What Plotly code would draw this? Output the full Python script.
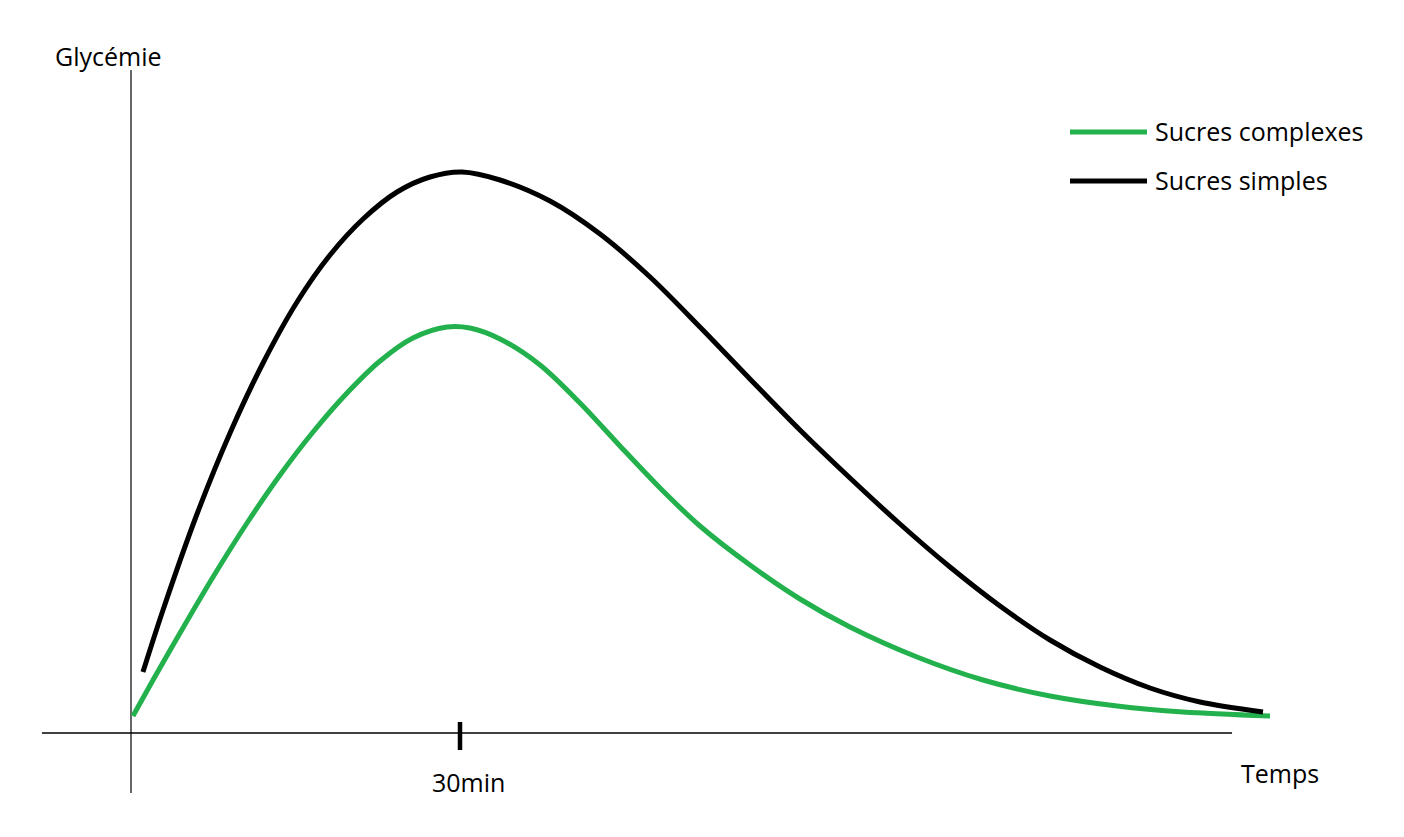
import plotly.graph_objects as go

# ---- data (time in minutes, glycaemia in arbitrary units) ----
t_simples = [1.09, 2.92, 6.02, 9.03, 12.04, 15.14, 18.15, 21.16, 24.26, 27.26, 30.18,
             33.65, 38.21, 42.77, 47.33, 51.88, 56.44, 61.00, 65.56, 70.12, 74.68,
             79.24, 83.80, 88.36, 92.92, 97.48, 103.22]
g_simples = [0.61, 1.23, 2.19, 3.00, 3.70, 4.31, 4.78, 5.14, 5.41, 5.56, 5.61,
             5.53, 5.32, 4.99, 4.56, 4.06, 3.54, 3.03, 2.55, 2.09, 1.66,
             1.27, 0.93, 0.66, 0.45, 0.31, 0.21]

t_complexes = [0.18, 2.01, 4.47, 7.48, 10.58, 13.59, 16.60, 19.70, 22.71, 25.71, 28.81,
               30.91, 33.65, 37.30, 40.94, 44.59, 48.24, 51.88, 56.44, 61.00, 65.56,
               71.67, 77.69, 83.80, 89.91, 95.93, 103.86]
g_complexes = [0.17, 0.53, 1.00, 1.56, 2.10, 2.58, 3.01, 3.40, 3.72, 3.95, 4.06,
               4.05, 3.94, 3.68, 3.30, 2.87, 2.45, 2.07, 1.68, 1.34, 1.06,
               0.76, 0.53, 0.37, 0.27, 0.21, 0.17]

series_names = ["Sucres complexes", "Sucres simples"]
series_colors = ["#22b14c", "#000000"]
tick_value = 30
tick_label = "30min"
x_title = "Temps"
y_title = "Glycémie"

W, H = 1404, 837
FONT = "Open Sans"
FS = 25


def px(x, y):
    return x / W, 1 - y / H


fig = go.Figure()
fig.add_trace(go.Scatter(x=t_complexes, y=g_complexes, mode="lines",
                         line=dict(color=series_colors[0], width=5, shape="spline",
                                   smoothing=0.9),
                         name=series_names[0], showlegend=False))
fig.add_trace(go.Scatter(x=t_simples, y=g_simples, mode="lines",
                         line=dict(color=series_colors[1], width=5, shape="spline",
                                   smoothing=0.9),
                         name=series_names[1], showlegend=False))

# axes lines (data coords)
fig.add_shape(type="line", x0=0, x1=0, y0=-0.60, y1=6.63,
              line=dict(color="black", width=1.2), layer="below")
fig.add_shape(type="line", x0=-8.12, x1=100.40, y0=0, y1=0,
              line=dict(color="black", width=1.5), layer="below")
fig.add_shape(type="line", x0=tick_value, x1=tick_value, y0=0.11, y1=-0.17,
              line=dict(color="black", width=4.5))

# legend (manual)
for i, yy in enumerate([132, 181]):
    x0, y0 = px(1070, yy)
    x1, _ = px(1147, yy)
    fig.add_shape(type="line", xref="paper", yref="paper", x0=x0, x1=x1, y0=y0, y1=y0,
                  line=dict(color=series_colors[i], width=5))
    tx, ty = px(1153, yy - 1)
    fig.add_annotation(xref="paper", yref="paper", x=tx, y=ty, text=series_names[i],
                       showarrow=False, xanchor="left", yanchor="middle",
                       font=dict(family=FONT, size=FS, color="black"))

ax, ay = px(108, 56)
fig.add_annotation(xref="paper", yref="paper", x=ax, y=ay, text=y_title, showarrow=False,
                   xanchor="center", yanchor="middle",
                   font=dict(family=FONT, size=FS, color="black"))
ax, ay = px(1280, 773)
fig.add_annotation(xref="paper", yref="paper", x=ax, y=ay, text=x_title, showarrow=False,
                   xanchor="center", yanchor="middle",
                   font=dict(family=FONT, size=FS, color="black"))
fig.add_annotation(x=tick_value, y=(733 - 782) / 100, text=tick_label, showarrow=False,
                   xanchor="center", yanchor="middle", xshift=8,
                   font=dict(family=FONT, size=FS, color="black"))

mpp = 30 / 329.0
fig.update_layout(
    width=W, height=H,
    margin=dict(l=0, r=0, t=0, b=0),
    paper_bgcolor="white", plot_bgcolor="white",
    xaxis=dict(range=[-131 * mpp, (W - 131) * mpp], visible=False, fixedrange=True),
    yaxis=dict(range=[(733 - H) / 100, 733 / 100], visible=False, fixedrange=True),
    showlegend=False,
)

fig.write_html("out.html", config={"displayModeBar": False},
               post_script="document.body.style.margin='0px';")
